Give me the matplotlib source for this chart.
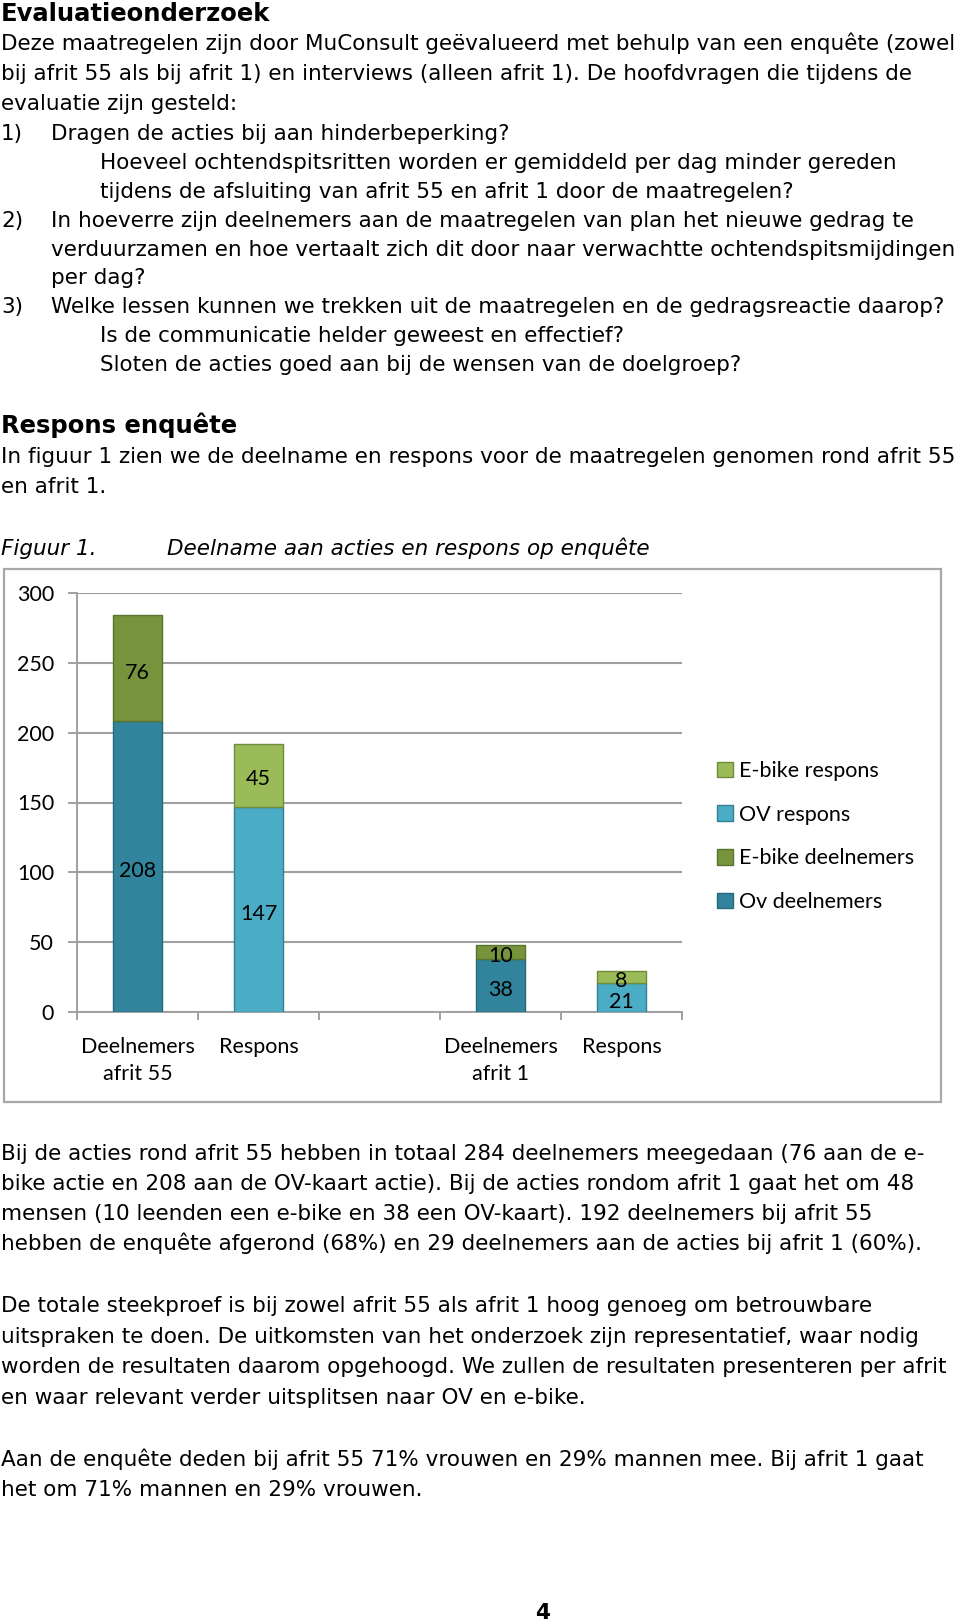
import numpy as np
import matplotlib
matplotlib.use("Agg")
import matplotlib.pyplot as plt
from matplotlib.patches import Rectangle

W, H = 960, 1621

# ---- chart data ----
categories = ["Deelnemers\nafrit 55", "Respons", "", "Deelnemers\nafrit 1", "Respons"]
ov_deelnemers = [208, 0, 0, 38, 0]
ebike_deelnemers = [76, 0, 0, 10, 0]
ov_respons = [0, 147, 0, 0, 21]
ebike_respons = [0, 45, 0, 0, 8]
yticks = [0, 50, 100, 150, 200, 250, 300]

BODY = "DejaVu Sans"
CHART = "Lato"
plt.rcParams["font.family"] = [CHART, "DejaVu Sans"]

fig = plt.figure(figsize=(W / 100, H / 100), dpi=100)
renderer = fig.canvas.get_renderer()


def fx(px):
    return px / W


def fy(py):
    return 1 - py / H


def fit(s, width, **kw):
    # font size that makes s about width pixels wide
    t = fig.text(0, 0, s, fontsize=20, **kw)
    w = t.get_window_extent(renderer).width
    t.remove()
    return 20 * width / w


body_fs = fit("Deze maatregelen zijn door MuConsult geëvalueerd met behulp van een enquête (zowel",
              955, family=BODY)
head_fs = fit("Evaluatieonderzoek", 270, family=BODY, weight="bold")

# ---- page text: (x px, baseline px, text, style) ----
DY = 3
lines = [
    (1, 18, "Evaluatieonderzoek", "head"),
    (1, 47, "Deze maatregelen zijn door MuConsult geëvalueerd met behulp van een enquête (zowel", ""),
    (1, 77, "bij afrit 55 als bij afrit 1) en interviews (alleen afrit 1). De hoofdvragen die tijdens de", ""),
    (1, 107, "evaluatie zijn gesteld:", ""),
    (1, 137, "1)", ""),
    (51, 137, "Dragen de acties bij aan hinderbeperking?", ""),
    (100, 166, "Hoeveel ochtendspitsritten worden er gemiddeld per dag minder gereden", ""),
    (100, 195, "tijdens de afsluiting van afrit 55 en afrit 1 door de maatregelen?", ""),
    (1, 224, "2)", ""),
    (51, 224, "In hoeverre zijn deelnemers aan de maatregelen van plan het nieuwe gedrag te", ""),
    (51, 253, "verduurzamen en hoe vertaalt zich dit door naar verwachtte ochtendspitsmijdingen", ""),
    (51, 281, "per dag?", ""),
    (1, 310, "3)", ""),
    (51, 310, "Welke lessen kunnen we trekken uit de maatregelen en de gedragsreactie daarop?", ""),
    (100, 339, "Is de communicatie helder geweest en effectief?", ""),
    (100, 368, "Sloten de acties goed aan bij de wensen van de doelgroep?", ""),
    (1, 430, "Respons enquête", "head"),
    (1, 460, "In figuur 1 zien we de deelname en respons voor de maatregelen genomen rond afrit 55", ""),
    (1, 490, "en afrit 1.", ""),
    (1, 552, "Figuur 1.", "it"),
    (167, 552, "Deelname aan acties en respons op enquête", "it"),
    (1, 1157, "Bij de acties rond afrit 55 hebben in totaal 284 deelnemers meegedaan (76 aan de e-", ""),
    (1, 1187, "bike actie en 208 aan de OV-kaart actie). Bij de acties rondom afrit 1 gaat het om 48", ""),
    (1, 1217, "mensen (10 leenden een e-bike en 38 een OV-kaart). 192 deelnemers bij afrit 55", ""),
    (1, 1247, "hebben de enquête afgerond (68%) en 29 deelnemers aan de acties bij afrit 1 (60%).", ""),
    (1, 1309, "De totale steekproef is bij zowel afrit 55 als afrit 1 hoog genoeg om betrouwbare", ""),
    (1, 1340, "uitspraken te doen. De uitkomsten van het onderzoek zijn representatief, waar nodig", ""),
    (1, 1370, "worden de resultaten daarom opgehoogd. We zullen de resultaten presenteren per afrit", ""),
    (1, 1401, "en waar relevant verder uitsplitsen naar OV en e-bike.", ""),
    (1, 1463, "Aan de enquête deden bij afrit 55 71% vrouwen en 29% mannen mee. Bij afrit 1 gaat", ""),
    (1, 1493, "het om 71% mannen en 29% vrouwen.", ""),
]

for x, y, s, style in lines:
    kw = dict(family=BODY, fontsize=body_fs, va="baseline", ha="left", color="black")
    if style == "head":
        kw.update(weight="bold", fontsize=head_fs)
    elif style == "it":
        kw.update(style="italic")
    fig.text(fx(x), fy(y + DY), s, **kw)

fig.text(fx(542), fy(1619), "4", family=BODY, fontsize=body_fs, weight="bold",
         ha="center", va="baseline")

# ---- chart ----
chart_fs = fit("E-bike deelnemers", 176, family=CHART)
grey = "#A0A0A0"

fig.patches.append(Rectangle((fx(4), fy(1102)), fx(941) - fx(4), (1102 - 569) / H,
                             transform=fig.transFigure, fill=False, ec="#A8A8A8", lw=1.6))

ax = fig.add_axes([fx(77), fy(1012), fx(682) - fx(77), (1012 - 593) / H])
x = np.arange(len(categories))


def nz(vals, base):
    idx = [i for i, v in enumerate(vals) if v]
    return [x[i] for i in idx], [vals[i] for i in idx], [base[i] for i in idx]


zero = [0] * len(categories)
series = [
    ("Ov deelnemers", ov_deelnemers, zero, "#31849B", "#24697C"),
    ("E-bike deelnemers", ebike_deelnemers, ov_deelnemers, "#77933C", "#5A7330"),
    ("OV respons", ov_respons, zero, "#4BACC6", "#357F94"),
    ("E-bike respons", ebike_respons, ov_respons, "#9BBB59", "#6F8C3A"),
]
handles = {}
for name, vals, base, fc, ec in series:
    xs, hs, bs = nz(vals, base)
    bars = ax.bar(xs, hs, bottom=bs, width=0.4, color=fc, edgecolor=ec, lw=1.0,
                  label=name, zorder=3)
    anns = ax.bar_label(bars, labels=[str(v) for v in hs], label_type="center",
                        fontsize=chart_fs, color="black", zorder=4)
    for a in anns:
        a.xyann = (0, -3)  # labels sit a little below the middle
    handles[name] = bars

ax.set_xlim(-0.5, len(categories) - 0.5)
ax.set_ylim(0, 300)
ax.set_yticks(yticks)
ax.yaxis.grid(True, color=grey, lw=1.5)
ax.set_axisbelow(True)
ax.set_xticks(x)
ax.set_xticklabels(categories, linespacing=1.45)
ax.set_xticks(np.arange(-0.5, len(categories), 1), minor=True)
ax.tick_params(axis="x", which="major", length=0, pad=18, labelsize=chart_fs)
ax.tick_params(axis="x", which="minor", length=6, width=1.4, color=grey)
ax.tick_params(axis="y", length=6.5, width=1.4, color=grey, pad=10, labelsize=chart_fs)
for side in ["top", "right"]:
    ax.spines[side].set_visible(False)
for side in ["left", "bottom"]:
    ax.spines[side].set_color(grey)
    ax.spines[side].set_linewidth(1.4)

order = ["E-bike respons", "OV respons", "E-bike deelnemers", "Ov deelnemers"]
fs_px = chart_fs * 100 / 72
fig.legend([handles[n] for n in order], order, loc="upper left",
           bbox_to_anchor=(fx(717), fy(761)), frameon=False, fontsize=chart_fs,
           handlelength=16 / fs_px, handleheight=16 / fs_px, handletextpad=6 / fs_px,
           labelspacing=1.1, borderpad=0, borderaxespad=0)

fig.savefig("out.png", dpi=100)
